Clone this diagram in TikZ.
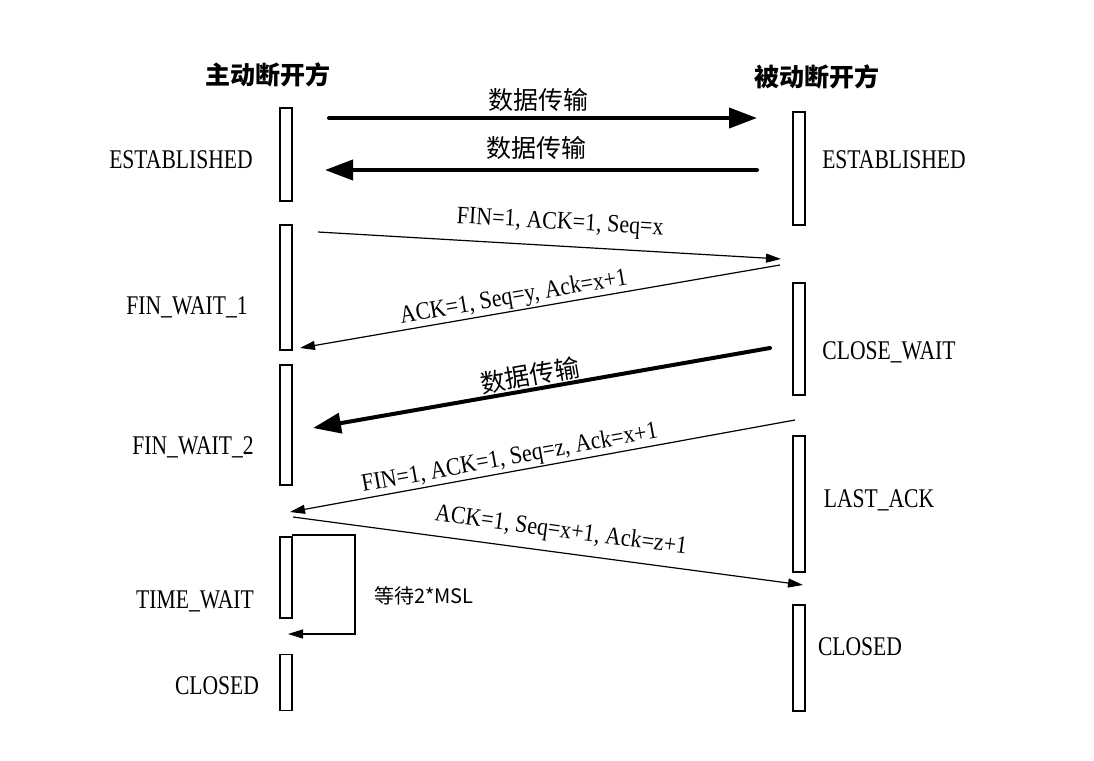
\documentclass[tikz,border=0pt]{standalone}
\usepackage{fontspec}
\usetikzlibrary{arrows.meta}
\newfontfamily\cjk{Noto Sans CJK SC}
\newfontfamily\statefont[FakeStretch=0.8]{Liberation Serif}
\newfontfamily\msgfont[FakeStretch=0.88]{Liberation Serif}

\begin{document}
\begin{tikzpicture}[x=1pt,y=-1pt,
  lifebox/.style={draw, line width=1.5pt, minimum width=12pt, inner sep=0pt, outer sep=0pt},
  state/.style={font=\statefont\fontsize{27}{27}\selectfont, inner sep=0pt},
  party/.style={font=\cjk\bfseries\fontsize{25}{25}\selectfont, inner sep=0pt},
  msg/.style={line width=1.2pt, -{Triangle[length=15pt,width=9pt]}},
  bulk/.style={line width=4pt, line cap=round, -{Triangle[length=28pt,width=20pt]}},
  msglbl/.style={font=\msgfont\fontsize{25}{25}\selectfont, sloped, above, inner sep=3pt},
  bulklbl/.style={font=\cjk\fontsize{25}{25}\selectfont, sloped, above, inner sep=3pt}
]
\useasboundingbox[fill=white] (0,0) rectangle (1094,760);

% column headings
\node[party] (hA) at (268,75) {主动断开方};
\node[party] (hB) at (817,77) {被动断开方};

% activation bars, active closer
\node[lifebox, minimum height=93pt]  (a1) at (286,154.5) {};
\node[lifebox, minimum height=125pt] (a2) at (286,287.5) {};
\node[lifebox, minimum height=120pt] (a3) at (286,425) {};
\node[lifebox, minimum height=81pt]  (a4) at (286,577.5) {};
\node[lifebox, minimum height=56pt]  (a5) at (286,682.5) {};

% activation bars, passive closer
\node[lifebox, minimum height=113pt] (b1) at (799,168.5) {};
\node[lifebox, minimum height=112pt] (b2) at (799,339) {};
\node[lifebox, minimum height=136pt] (b3) at (799,504) {};
\node[lifebox, minimum height=106pt] (b4) at (799,658) {};

% state names
\node[state] (sA1) at (181,160) {ESTABLISHED};
\node[state] (sA2) at (187,307) {FIN\_WAIT\_1};
\node[state] (sA3) at (193,447) {FIN\_WAIT\_2};
\node[state] (sA4) at (195,601) {TIME\_WAIT};
\node[state] (sA5) at (217,686) {CLOSED};
\node[state] (sB1) at (894,160) {ESTABLISHED};
\node[state] (sB2) at (889,352) {CLOSE\_WAIT};
\node[state] (sB3) at (879,500) {LAST\_ACK};
\node[state] (sB4) at (860,647) {CLOSED};

% message end points
\coordinate (d1s) at (329,118);  \coordinate (d1e) at (757,118);
\coordinate (d2s) at (757,170);  \coordinate (d2e) at (325,170);
\coordinate (m1s) at (318,232);  \coordinate (m1e) at (781,259);
\coordinate (m2s) at (780,265);  \coordinate (m2e) at (300,348);
\coordinate (d3s) at (770,348);  \coordinate (d3e) at (313,428);
\coordinate (m3s) at (795,420);  \coordinate (m3e) at (290,512);
\coordinate (m4s) at (293,517);  \coordinate (m4e) at (803,585);

% data transfer
\draw[bulk] (d1s) -- node[bulklbl, pos=0.49, inner sep=4pt] {数据传输} (d1e);
\draw[bulk] (d2s) -- node[bulklbl, pos=0.51, inner sep=8pt] {数据传输} (d2e);

% four-way close
\draw[msg] (m1s) -- node[msglbl, pos=0.52, inner sep=11pt] {FIN=1, ACK=1, Seq=x} (m1e);
\draw[msg] (m2s) -- node[msglbl, pos=0.55, inner sep=1pt] {ACK=1, Seq=y, Ack=x+1} (m2e);
\draw[bulk] (d3s) -- node[bulklbl, pos=0.52, inner sep=1pt] {数据传输} (d3e);
\draw[msg] (m3s) -- node[msglbl, pos=0.56, inner sep=1pt] {FIN=1, ACK=1, Seq=z, Ack=x+1} (m3e);
\draw[msg] (m4s) -- node[msglbl, pos=0.52, inner sep=9pt] {ACK=1, Seq=x+1, Ack=z+1} (m4e);

% 2MSL timer loop
\coordinate (w1) at (355,535);
\coordinate (w2) at (355,634);
\coordinate (w3) at (288,634);
\draw[msg] (a4.north east) ++(0,-2) -- (w1) -- (w2) -- (w3);
\node[font=\cjk\fontsize{20}{20}\selectfont, inner sep=0pt, anchor=west] (wl) at (374,596) {等待2*MSL};
\end{tikzpicture}
\end{document}
